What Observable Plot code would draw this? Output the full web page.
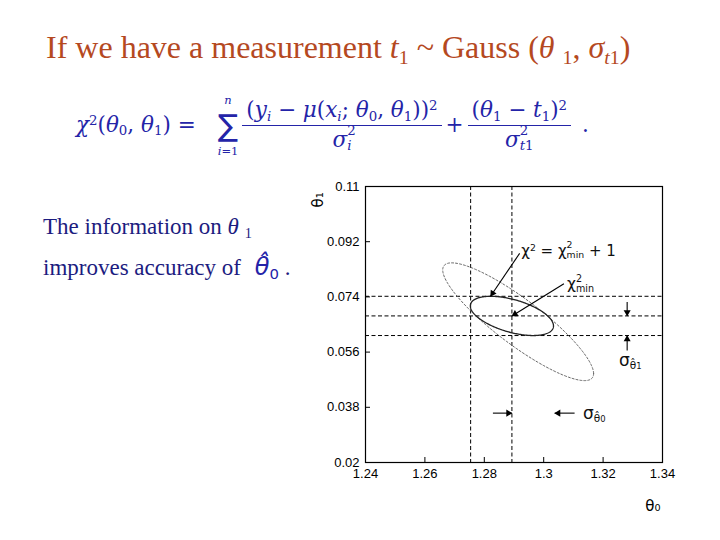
<!DOCTYPE html>
<html>
<head>
<meta charset="utf-8">
<script src="https://cdn.jsdelivr.net/npm/d3@7"></script>
<script src="https://cdn.jsdelivr.net/npm/@observablehq/plot@0.6"></script>
<style>
  html, body { margin: 0; padding: 0; background: #fff; }
  #page { position: relative; width: 720px; height: 540px; overflow: hidden; background: #fff; }
  .abs { position: absolute; white-space: nowrap; }
  #title { left: 46px; top: 31px; font-family: "Liberation Serif", "Times New Roman", serif; font-size: 32px; line-height: 1; color: #b5491f; }
  .body { font-family: "Liberation Serif", "Times New Roman", serif; font-size: 23px; line-height: 1; color: #1c1c80; }
  .sb { font-size: 0.62em; position: relative; top: 0.28em; vertical-align: baseline; }
  .sp { font-size: 0.62em; position: relative; top: -0.5em; vertical-align: baseline; }
  .st { position: relative; display: inline-block; }
  .st .up { font-size: 0.62em; position: absolute; left: 0; top: -0.35em; }
  .st .dn { font-size: 0.62em; position: relative; top: 0.3em; }
  #formula { left: 76px; top: 93px; display: flex; align-items: center; color: #2424a8; font-family: "DejaVu Serif", serif; font-size: 21.5px; line-height: 1.05; }
  .frac { display: inline-flex; flex-direction: column; align-items: center; margin: 0 6px; }
  .frac .num { padding: 0 2px 3px 2px; }
  .frac .den { border-top: 1.3px solid #2424a8; padding: 3px 2px 0 2px; width: 100%; text-align: center; }
  .sum { display: inline-flex; flex-direction: column; align-items: center; margin: 2px 0 0 22px; }
  .sum .lim { font-size: 11.5px; font-style: italic; line-height: 1; }
  .sum .sig { font-family: "DejaVu Sans", sans-serif; font-size: 30px; line-height: 1; margin: 4px 0 5px 0; }
  i { font-style: italic; }
  #chart { position: absolute; left: 300px; top: 170px; }
  .ann { position: absolute; white-space: nowrap; font-family: "DejaVu Sans", "Liberation Sans", sans-serif; color: #111; line-height: 1; }
</style>
</head>
<body>
<div id="page">
  <div id="title" class="abs">If we have a measurement <i>t</i><span class="sb">1</span> ~ Gauss (<i>θ</i> <span class="sb">1</span>, <i>σ</i><span class="sb"><i>t</i>1</span>)</div>

  <div id="formula" class="abs">
    <span><i>χ</i><span class="sp">2</span>(<i>θ</i><span class="sb">0</span>, <i>θ</i><span class="sb">1</span>) =</span>
    <span class="sum"><span class="lim">n</span><span class="sig">∑</span><span class="lim">i<span style="font-style:normal">=1</span></span></span>
    <span class="frac"><span class="num">(<i>y<span class="sb">i</span></i> − <i>μ</i>(<i>x<span class="sb">i</span></i>; <i>θ</i><span class="sb">0</span>, <i>θ</i><span class="sb">1</span>))<span class="sp">2</span></span><span class="den"><i>σ</i><span class="st"><span class="up">2</span><span class="dn"><i>i</i></span></span></span></span>
    <span>+</span>
    <span class="frac"><span class="num">(<i>θ</i><span class="sb">1</span> − <i>t</i><span class="sb">1</span>)<span class="sp">2</span></span><span class="den"><i>σ</i><span class="st"><span class="up">2</span><span class="dn"><i>t</i>1</span></span></span></span>
    <span>&nbsp;.</span>
  </div>

  <div class="abs body" style="left:43px; top:215px;">The information on <i>θ</i> <span class="sb">1</span></div>
  <div class="abs body" style="left:43px; top:255px;">improves accuracy of <span style="font-family:'DejaVu Sans',sans-serif; color:#2424a8; font-size:24px; margin-left:8px;"><i>θ̂</i><span class="sb">0</span></span>&nbsp;.</div>

  <div id="chart"></div>
</div>
<script>
// ---- data ----
const xTicks = [1.24, 1.26, 1.28, 1.3, 1.32, 1.34];
const yTicks = [0.02, 0.038, 0.056, 0.074, 0.092, 0.11];
const xDomain = [1.24, 1.34];
const yDomain = [0.02, 0.11];

// dashed guide lines
const vLines = [1.2754, 1.2893];
const hLines = [0.0742, 0.0678, 0.0614];

// chi^2 contours (center, sigmas, correlation)
const ellNames = ["with t1", "without t1"];
const ellCx = [1.2893, 1.2914];
const ellCy = [0.0678, 0.0659];
const ellSx = [0.0140, 0.0254];
const ellSy = [0.0064, 0.0192];
const ellRho = [-0.51, -0.88];

// arrows (start -> tip)
const arrowX1 = [1.2919, 1.3068, 1.3281, 1.3281, 1.2829, 1.3104];
const arrowY1 = [0.0882, 0.0783, 0.0723, 0.0565, 0.0361, 0.0361];
const arrowX2 = [1.2821, 1.2893, 1.3281, 1.3281, 1.2893, 1.3037];
const arrowY2 = [0.0742, 0.0678, 0.0678, 0.0614, 0.0361, 0.0361];

// annotation labels (left, baseline)
const annX = [1.2926, 1.3080, 1.3255, 1.3134];
const annY = [0.0875, 0.0764, 0.0515, 0.0345];
const annSize = [15, 15.5, 17, 17];
const annHtml = [
  'χ<span class="sp">2</span> = χ<span class="st"><span class="up">2</span><span class="dn">min</span></span> + 1',
  'χ<span class="st"><span class="up">2</span><span class="dn">min</span></span>',
  'σ<span class="sb">θ̂<span style="font-size:0.8em">1</span></span>',
  'σ<span class="sb">θ̂<span style="font-size:0.8em">0</span></span>'
];

// ---- layout ----
const W = 380, H = 360, mL = 65, mR = 18, mT = 16, mB = 68;

// ---- contour points from the ellipse parameters ----
const ellPts = [];
ellNames.forEach((name, k) => {
  const n = 240;
  for (let j = 0; j <= n; j++) {
    const t = (2 * Math.PI * j) / n;
    const r = ellRho[k];
    ellPts.push({
      name,
      x: ellCx[k] + ellSx[k] * Math.cos(t),
      y: ellCy[k] + ellSy[k] * (r * Math.cos(t) + Math.sqrt(1 - r * r) * Math.sin(t))
    });
  }
});

// filled arrow heads: triangle dots set back from the tip, rotated along the arrow
const kx = (W - mL - mR) / (xDomain[1] - xDomain[0]);
const ky = (H - mT - mB) / (yDomain[1] - yDomain[0]);
const back = 3.6;
const heads = arrowX1.map((_, i) => {
  const sxp = (arrowX2[i] - arrowX1[i]) * kx;
  const syp = -(arrowY2[i] - arrowY1[i]) * ky;
  const len = Math.hypot(sxp, syp);
  const ux = sxp / len, uy = syp / len;
  return {
    x: arrowX2[i] - back * ux / kx,
    y: arrowY2[i] + back * uy / ky,
    rot: Math.atan2(ux, -uy) * 180 / Math.PI
  };
});
const arrowIdx = d3.range(arrowX1.length);
const fmt = d => String(d);

const plot = Plot.plot({
  width: W,
  height: H,
  marginLeft: mL,
  marginRight: mR,
  marginTop: mT,
  marginBottom: mB,
  x: { domain: xDomain },
  y: { domain: yDomain },
  style: { fontFamily: "'Liberation Sans', Arial, sans-serif", fontSize: "13px", color: "#000", background: "transparent" },
  marks: [
    Plot.ruleX(vLines, { stroke: "#000", strokeWidth: 1, strokeDasharray: "4,2.5" }),
    Plot.ruleY(hLines, { stroke: "#000", strokeWidth: 1, strokeDasharray: "4,2.5" }),
    Plot.line(ellPts.filter(d => d.name === ellNames[1]), { x: "x", y: "y", stroke: "#666", strokeWidth: 1, strokeDasharray: "2,2", curve: "linear" }),
    Plot.line(ellPts.filter(d => d.name === ellNames[0]), { x: "x", y: "y", stroke: "#222", strokeWidth: 1.3, curve: "linear" }),
    Plot.link(arrowIdx, { x1: arrowX1, y1: arrowY1, x2: arrowX2, y2: arrowY2, stroke: "#000", strokeWidth: 1.1 }),
    Plot.dot(heads, { x: "x", y: "y", rotate: "rot", symbol: "triangle", r: 2.6, fill: "#000", stroke: "none" }),
    Plot.axisX({ ticks: xTicks, tickFormat: fmt, tickSize: 0, tickPadding: 6, label: null, fontSize: 13 }),
    Plot.axisX({ ticks: xTicks, tickSize: -5, text: null, label: null }),
    Plot.axisY({ ticks: yTicks, tickFormat: fmt, tickSize: 0, tickPadding: 6, label: null, fontSize: 13 }),
    Plot.axisY({ ticks: yTicks, tickSize: -5, text: null, label: null }),
    Plot.frame({ stroke: "#000", strokeWidth: 1.2 }),
    Plot.text(["θ₁"], { frameAnchor: "top-left", rotate: -90, dx: -53, dy: 21, fontSize: 15, fontFamily: "'DejaVu Sans', sans-serif" }),
    Plot.text(["θ₀"], { frameAnchor: "bottom-right", dx: -2, dy: 48, fontSize: 15, fontFamily: "'DejaVu Sans', sans-serif" })
  ]
});
const chart = document.getElementById("chart");
chart.appendChild(plot);

// annotations placed through the plot's own scales
const sx = plot.scale("x"), sy = plot.scale("y");
annHtml.forEach((html, i) => {
  const el = document.createElement("div");
  el.className = "ann";
  el.style.fontSize = annSize[i] + "px";
  el.style.left = sx.apply(annX[i]) + "px";
  el.style.top = (sy.apply(annY[i]) - 0.76 * annSize[i]) + "px";
  el.innerHTML = html;
  chart.appendChild(el);
});
</script>
</body>
</html>
